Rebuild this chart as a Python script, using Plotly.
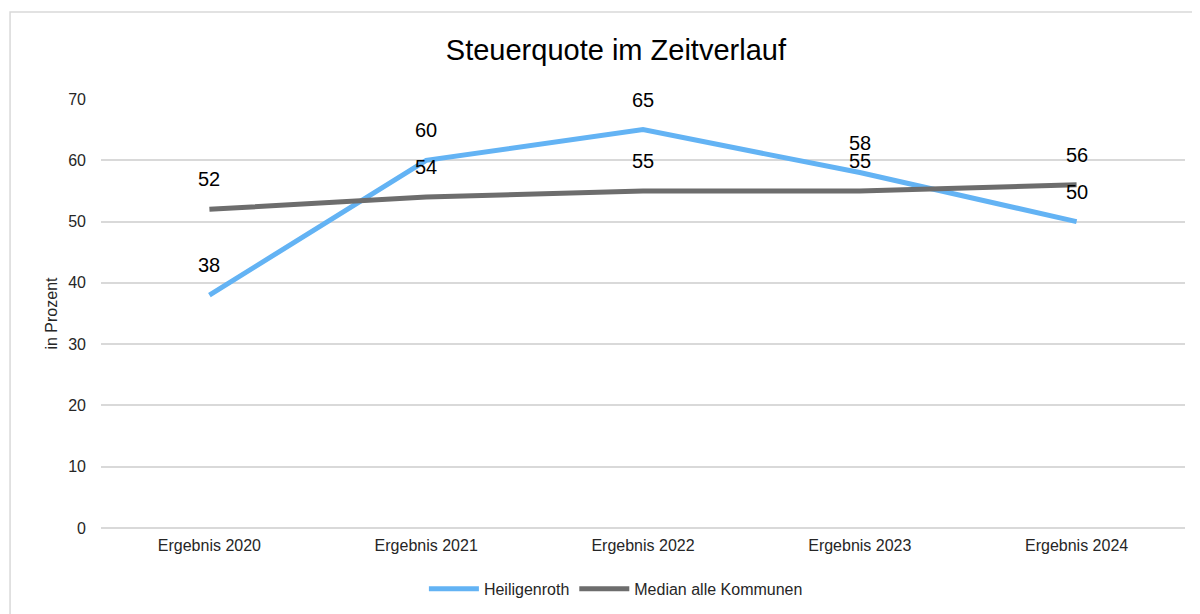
import plotly.graph_objects as go

categories = ["Ergebnis 2020", "Ergebnis 2021", "Ergebnis 2022", "Ergebnis 2023", "Ergebnis 2024"]
heiligenroth = [38, 60, 65, 58, 50]
median = [52, 54, 55, 55, 56]
series_names = ["Heiligenroth", "Median alle Kommunen"]
title_text = "Steuerquote im Zeitverlauf"
y_title = "in Prozent"

FONT = "Liberation Sans, Arial, sans-serif"
BLUE = "#63B3F4"
GREY = "#6D6D6D"
TXT = "#262626"

fig = go.Figure()
fig.add_trace(go.Scatter(x=categories, y=heiligenroth, mode="lines", name=series_names[0],
                         line=dict(color=BLUE, width=5)))
fig.add_trace(go.Scatter(x=categories, y=median, mode="lines", name=series_names[1],
                         line=dict(color=GREY, width=5)))

for vals in (heiligenroth, median):
    for c, v in zip(categories, vals):
        fig.add_annotation(x=c, y=v, text=str(v), showarrow=False, yshift=30,
                           font=dict(family=FONT, size=20, color="#000000"))

# outer chart border
fig.add_shape(type="rect", xref="paper", yref="paper", x0=-0.0839, x1=1.2, y0=-0.4, y1=1.2028,
              line=dict(color="#D9D9D9", width=1.5), fillcolor="rgba(0,0,0,0)", layer="below")

fig.update_layout(
    width=1200, height=614,
    margin=dict(l=93, r=23, t=91, b=94),
    paper_bgcolor="white", plot_bgcolor="white",
    title=dict(text=title_text, x=0.475, xref="paper", xanchor="center", y=0.9316, yanchor="middle",
               font=dict(family=FONT, size=29, color="#000000")),
    font=dict(family=FONT, size=16, color=TXT),
    showlegend=True,
    legend=dict(orientation="h", x=0.475, xanchor="center", y=-0.142, yanchor="middle",
                font=dict(family=FONT, size=16, color=TXT), itemwidth=50,
                traceorder="normal"),
    xaxis=dict(type="category", range=[-0.5, 4.5], showgrid=False, showline=False, ticks="",
               ticklabelstandoff=6,
               tickfont=dict(family=FONT, size=16, color=TXT)),
    yaxis=dict(range=[0, 70], dtick=10, showgrid=True, gridcolor="#D9D9D9", gridwidth=1.5,
               zeroline=True, zerolinecolor="#D9D9D9", zerolinewidth=1.5, showline=False,
               ticks="", ticklabelstandoff=14,
               tickfont=dict(family=FONT, size=16, color=TXT),
               title=dict(text=y_title, standoff=6, font=dict(family=FONT, size=16, color=TXT))),
)

fig.write_html("out.html")
